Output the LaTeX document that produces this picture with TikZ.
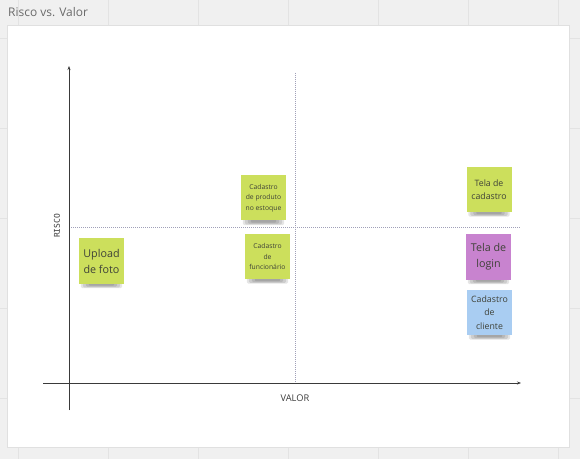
\documentclass[tikz,border=0pt]{standalone}
\usepackage{fontspec}
\setmainfont{Open Sans}
\newfontfamily\monofnt{DejaVu Sans Mono}
\usetikzlibrary{arrows.meta,backgrounds}
\pgfdeclarelayer{bottom}
\pgfdeclarelayer{shadowlayer}
\pgfsetlayers{bottom,shadowlayer,main}
\definecolor{bggray}{HTML}{F0F0F0}
\definecolor{gridgray}{HTML}{E3E3E3}
\definecolor{panelborder}{HTML}{E0E0E0}
\definecolor{notegreen}{HTML}{CCDF5C}
\definecolor{notepurple}{HTML}{C883CF}
\definecolor{noteblue}{HTML}{A9CDF2}
\definecolor{notetext}{HTML}{3F4238}
\definecolor{axiscol}{HTML}{3A3A3A}
\definecolor{dotcol}{HTML}{A0A0B8}
\definecolor{titlecol}{HTML}{6A6A6A}
\tikzset{
  note/.style={rectangle, inner sep=0pt, minimum width=45bp, minimum height=45bp,
    align=center, text=notetext},
  smalltxt/.style={font=\fontsize{6.8}{10.5}\selectfont},
  midtxt/.style={font=\fontsize{8.8}{13.5}\selectfont},
  bigtxt/.style={font=\fontsize{10.8}{16}\selectfont},
  axisline/.style={draw=axiscol, line width=0.8bp, -{Stealth[length=4bp,width=3bp]}},
  dotline/.style={draw=dotcol, line width=0.7bp, dash pattern=on 1bp off 1bp},
  notesh/.style={fill=black, opacity=0.1},
}
\newcommand{\noteshadow}[1]{%
  \fill[notesh, rounded corners=1.5bp] ([xshift=2bp,yshift=2bp]#1.south west) rectangle ([xshift=-2bp,yshift=-4.5bp]#1.south east);
  \fill[notesh, rounded corners=1.5bp] ([xshift=4bp,yshift=2bp]#1.south west) rectangle ([xshift=-4bp,yshift=-3.8bp]#1.south east);
  \fill[notesh, rounded corners=1.5bp] ([xshift=7bp,yshift=2bp]#1.south west) rectangle ([xshift=-7bp,yshift=-3bp]#1.south east);
  \fill[notesh, rounded corners=1bp] ([xshift=10bp,yshift=2bp]#1.south west) rectangle ([xshift=-10bp,yshift=-2bp]#1.south east);
}
\begin{document}
\begin{tikzpicture}[x=1bp,y=-1bp]
\useasboundingbox (0,0) rectangle (580,459);
\begin{pgfonlayer}{bottom}
% background grid
\fill[bggray] (0,0) rectangle (580,459);
\foreach \gx in {18,108,198,288,378,468,558} \draw[gridgray, line width=0.8bp] (\gx,0) -- (\gx,459);
\foreach \gy in {38,128,218,308,398} \draw[gridgray, line width=0.8bp] (0,\gy) -- (580,\gy);
% panel
\fill[white, draw=panelborder, line width=0.8bp] (7,25.5) rectangle (569,447);
\end{pgfonlayer}
\node[anchor=base west, text=titlecol, font=\fontsize{12}{14}\selectfont, inner sep=0pt] (title) at (8,16.5) {Risco vs. Valor};
% axes
\coordinate (yb) at (69,410);
\coordinate (yt) at (69,66);
\coordinate (xl) at (43,383);
\coordinate (xr) at (521,383);
\coordinate (vt) at (295,73);
\coordinate (vb) at (295,383);
\coordinate (hl) at (69,227);
\coordinate (hr) at (520,227);
\draw[dotline] (vt) -- (vb);
\draw[dotline] (hl) -- (hr);
\draw[axisline] (yb) -- (yt);
\draw[axisline] (xl) -- (xr);
\node[rotate=90, text=axiscol, font=\monofnt\fontsize{8}{9}\selectfont, inner sep=0pt] (risco) at (57,226) {RISCO};
\node[text=axiscol, font=\fontsize{9.3}{11}\selectfont, inner sep=0pt] (valor) at (295,398) {VALOR};
% notes
\node[note, fill=notegreen, smalltxt] (prod) at (263.5,198) {Cadastro\\de produto\\no estoque};
\node[note, fill=notegreen, smalltxt] (func) at (267.5,256.5) {Cadastro\\de\\funcionário};
\node[note, fill=notegreen, bigtxt] (upload) at (101.5,261) {Upload\\de foto};
\node[note, fill=notegreen, midtxt] (telacad) at (489,189.5) {Tela de\\cadastro};
\node[note, fill=notepurple, bigtxt] (login) at (488.5,257) {Tela de\\login};
\node[note, fill=noteblue, midtxt] (cliente) at (489.5,312.5) {Cadastro\\de\\cliente};
\begin{pgfonlayer}{shadowlayer}
\noteshadow{prod}
\noteshadow{func}
\noteshadow{upload}
\noteshadow{telacad}
\noteshadow{login}
\noteshadow{cliente}
\end{pgfonlayer}
\end{tikzpicture}
\end{document}
